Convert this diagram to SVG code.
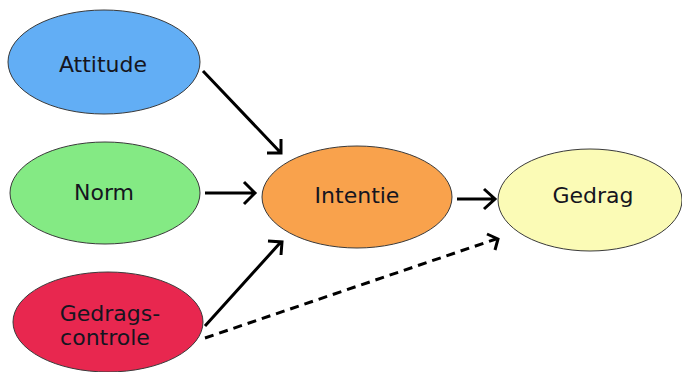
<svg xmlns="http://www.w3.org/2000/svg" width="682" height="372" viewBox="0 0 682 372">
<style>
.n{stroke:#3a3a3a;stroke-width:1}
.t{font-family:"DejaVu Sans",Verdana,sans-serif;font-size:22px;fill:#151520;text-anchor:middle}
.c{fill:none;stroke:#000;stroke-width:3;stroke-linecap:butt;stroke-linejoin:miter}
.d{stroke-dasharray:9 6}
</style>
<rect width="682" height="372" fill="#fff"/>
<g id="attitude"><ellipse class="n" cx="104" cy="62" rx="96" ry="52" fill="#62aef5"/><text class="t" x="103" y="72">Attitude</text></g>
<g id="norm"><ellipse class="n" cx="105" cy="193" rx="95" ry="51" fill="#84ea84"/><text class="t" x="104" y="200">Norm</text></g>
<g id="gedragscontrole"><ellipse class="n" cx="108" cy="322" rx="95" ry="50" fill="#e8274f"/><text class="t" x="110" y="321">Gedrags-</text><text class="t" x="105" y="345">controle</text></g>
<g id="intentie"><ellipse class="n" cx="357" cy="197" rx="95" ry="51" fill="#f9a24c"/><text class="t" x="357" y="203">Intentie</text></g>
<g id="gedrag"><ellipse class="n" cx="590" cy="200" rx="92" ry="51" fill="#fbfbb6"/><text class="t" x="593" y="203">Gedrag</text></g>
<g id="connectors">
<path class="c" d="M203 71 L280 152 M267 153 H281 V139"/>
<path class="c" d="M205 193 H255 M244 182 L255 193 L244 204"/>
<path class="c" d="M205 326 L280 243 M268 241 L282 242 L281 255"/>
<path class="c" d="M457 199 H495 M484 189 L495 199 L484 209"/>
<path class="c d" d="M205 338 L496 239"/>
<path class="c" d="M487 234 L498 239 L495 250"/>
</g>
</svg>
